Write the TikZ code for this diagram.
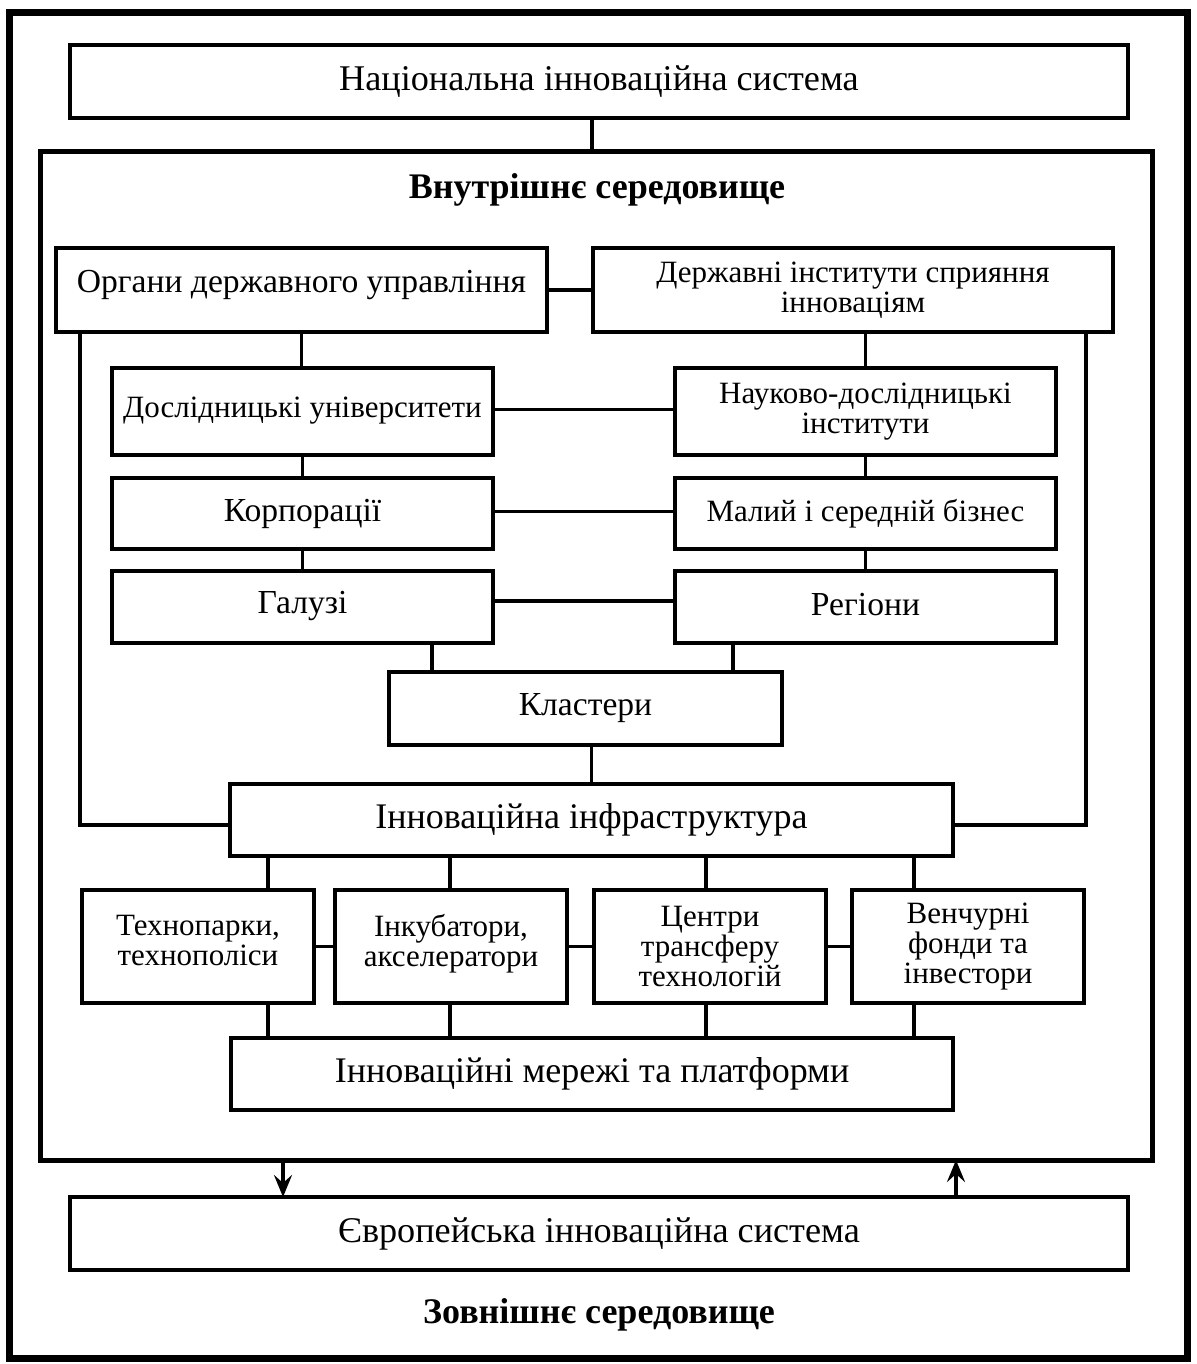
\documentclass[tikz,border=0pt]{standalone}
\usepackage{fontspec}
\setmainfont{Liberation Serif}
\usetikzlibrary{arrows.meta}
\begin{document}
\begin{tikzpicture}[x=0.5pt,y=-0.5pt,
  box/.style={draw,line width=2pt,rectangle,inner sep=0pt,outer sep=0pt,align=center,
    font=\fontsize{15.5}{15}\selectfont},
  mid/.style={font=\fontsize{16.8}{16}\selectfont},
  large/.style={font=\fontsize{18}{18}\selectfont},
  bigbox/.style={box,font=\fontsize{18.1}{20}\selectfont},
  link/.style={line width=1.75pt},
  head/.style={font=\fontsize{18}{20}\selectfont\bfseries},
  arr/.style={link,-{Stealth[length=11pt,width=9pt,inset=4pt]}}]
\useasboundingbox (0,0) rectangle (1196,1364);
\draw[line width=3.5pt] (9,13) rectangle (1187,1358);

\node[bigbox,minimum width=529pt,minimum height=36.5pt] (nat) at (599,81.5) {Національна інноваційна система};
\node[draw,line width=2.5pt,inner sep=0pt,outer sep=0pt,minimum width=556pt,minimum height=504pt] (inner) at (596,656) {};
\node[head] (hin) at (597,190) {Внутрішнє середовище};

\node[box,mid,minimum width=245.5pt,minimum height=42pt] (org) at (301.5,290) {\raisebox{2.5pt}[\height][\depth]{Органи державного управління}};
\node[box,minimum width=260pt,minimum height=42pt] (inst) at (853,290) {Державні інститути сприяння\\інноваціям};

\node[box,minimum width=190.5pt,minimum height=43.5pt] (univ) at (302.5,411.5) {\raisebox{0.5pt}[\height][\depth]{Дослідницькі університети}};
\node[box,minimum width=190.5pt,minimum height=43.5pt] (nii) at (865.5,411.5) {Науково-дослідницькі\\інститути};

\node[box,mid,minimum width=190.5pt,minimum height=35.5pt] (corp) at (302.5,513.5) {Корпорації};
\node[box,minimum width=190.5pt,minimum height=35.5pt] (msb) at (865.5,513.5) {Малий і середній бізнес};

\node[box,mid,minimum width=190.5pt,minimum height=36pt] (gal) at (302.5,607) {\raisebox{0.5pt}[\height][\depth]{Галузі}};
\node[box,mid,minimum width=190.5pt,minimum height=36pt] (reg) at (865.5,607) {\raisebox{1pt}[\height][\depth]{Регіони}};

\node[box,mid,minimum width=196.5pt,minimum height=36.5pt] (clus) at (585.5,708.5) {Кластери};
\node[box,large,minimum width=361.5pt,minimum height=36pt] (infra) at (591.5,820) {Інноваційна інфраструктура};

\node[box,text depth=6pt,minimum width=116pt,minimum height=56.5pt] (tech) at (198,946.5) {Технопарки,\\технополіси};
\node[box,text depth=6pt,minimum width=116pt,minimum height=56.5pt] (inc) at (451,946.5) {Інкубатори,\\акселератори};
\node[box,minimum width=116pt,minimum height=56.5pt] (ctr) at (710,946.5) {Центри\\трансферу\\технологій};
\node[box,minimum width=116pt,minimum height=56.5pt] (ven) at (968,946.5) {Венчурні\\фонди та\\інвестори};

\node[box,large,minimum width=361pt,minimum height=36pt] (net) at (592,1074) {Інноваційні мережі та платформи};
\node[bigbox,minimum width=529pt,minimum height=36.5pt] (eur) at (599,1233.5) {Європейська інноваційна система};
\node[head] (hout) at (599,1315) {Зовнішнє середовище};

% helper x-positions
\coordinate (xn) at (592,0);
\coordinate (lx) at (80,0);
\coordinate (rx) at (1086,0);
\coordinate (c1) at (432,0);
\coordinate (c2) at (733,0);
\coordinate (v1) at (268,0);
\coordinate (v2) at (450,0);
\coordinate (v3) at (706,0);
\coordinate (v4) at (914,0);
\coordinate (a1) at (283,0);
\coordinate (a2) at (956,0);

\draw[link] (nat.south -| xn) -- (inner.north -| xn);
\draw[link] (org.east) -- (inst.west);
\draw[link] (org.south) -- (org.south |- univ.north);
\draw[link] (nii.north |- inst.south) -- (nii.north);
\draw[link] (org.south -| lx) |- ([yshift=-2.5pt]infra.west);
\draw[link] (inst.south -| rx) |- ([yshift=-2.5pt]infra.east);
\draw[link] ([yshift=1pt]univ.east) -- ([yshift=1pt]nii.west);
\draw[link] (univ.south) -- (corp.north);
\draw[link] (corp.south) -- (gal.north);
\draw[link] (nii.south) -- (msb.north);
\draw[link] (msb.south) -- (reg.north);
\draw[link] ([yshift=1pt]corp.east) -- ([yshift=1pt]msb.west);
\draw[link] ([yshift=3pt]gal.east) -- ([yshift=3pt]reg.west);
\draw[link] (gal.south -| c1) -- (clus.north -| c1);
\draw[link] (reg.south -| c2) -- (clus.north -| c2);
\draw[link] (infra.north |- clus.south) -- (infra.north);
\draw[link] (infra.south -| v1) -- (tech.north -| v1);
\draw[link] (infra.south -| v2) -- (inc.north -| v2);
\draw[link] (infra.south -| v3) -- (ctr.north -| v3);
\draw[link] (infra.south -| v4) -- (ven.north -| v4);
\draw[link] (tech.south -| v1) -- (net.north -| v1);
\draw[link] (inc.south -| v2) -- (net.north -| v2);
\draw[link] (ctr.south -| v3) -- (net.north -| v3);
\draw[link] (ven.south -| v4) -- (net.north -| v4);
\draw[link] (tech.east) -- (inc.west);
\draw[link] (inc.east) -- (ctr.west);
\draw[link] (ctr.east) -- (ven.west);
\draw[arr] (inner.south -| a1) -- (eur.north -| a1);
\draw[arr] (eur.north -| a2) -- (inner.south -| a2);
\end{tikzpicture}
\end{document}
